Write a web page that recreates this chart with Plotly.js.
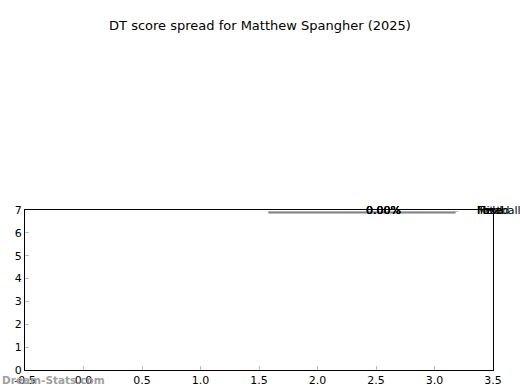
<!DOCTYPE html>
<html>
<head>
<meta charset="utf-8">
<script src="https://cdn.plot.ly/plotly-3.0.1.min.js"></script>
<style>html,body{margin:0;padding:0;background:#fff;}</style>
</head>
<body>
<div id="chart" style="width:520px;height:390px;"></div>
<script>
// Data
const categories = ["Total", "Football", "Mixed", "Field"];
const shares = ["0.00%", "0.00%", "0.00%", "0.00%"];
const spreadLow = [1.58, 1.58];
const spreadHigh = [3.18, 3.20];
const spreadLevel = [6.89, 6.93];
const labelX = 3.345;
const shareX = 2.56;
const catLevel = 7;
const xTicks = [-0.5, 0.0, 0.5, 1.0, 1.5, 2.0, 2.5, 3.0, 3.5];
const yTicks = [0, 1, 2, 3, 4, 5, 6, 7];

const traces = [
  {
    type: 'scatter', mode: 'lines',
    x: [spreadLow[0], spreadHigh[0]], y: [spreadLevel[0], spreadLevel[0]],
    line: {color: '#7f7f7f', width: 2}, hoverinfo: 'skip', showlegend: false
  },
  {
    type: 'scatter', mode: 'lines',
    x: [spreadLow[1], spreadHigh[1]], y: [spreadLevel[1], spreadLevel[1]],
    line: {color: '#b0b0b0', width: 1}, hoverinfo: 'skip', showlegend: false
  }
];

const font = {family: 'DejaVu Sans', size: 11, color: '#000'};
const annotations = [];
annotations.push({
  x: -0.054, y: -0.0625, xref: 'paper', yref: 'paper', text: 'Dream-Stats.com',
  showarrow: false, xanchor: 'left', yanchor: 'middle',
  font: {family: 'DejaVu Sans', size: 10.5, color: '#a0a0a0', weight: 'bold'}
});
categories.forEach((c, i) => {
  annotations.push({
    x: labelX, y: catLevel, xref: 'x', yref: 'y', text: c,
    showarrow: false, xanchor: 'left', yanchor: 'middle', font: font
  });
  annotations.push({
    x: shareX, y: catLevel, xref: 'x', yref: 'y', text: shares[i],
    showarrow: false, xanchor: 'center', yanchor: 'middle', font: font
  });
});

const axisCommon = {
  showline: true, linecolor: '#000', linewidth: 1, mirror: true,
  ticks: 'inside', ticklen: 4, tickcolor: '#bbb', tickwidth: 1,
  showgrid: false, zeroline: false, fixedrange: true,
  tickfont: font
};

const layout = {
  width: 520, height: 390,
  margin: {l: 25, r: 27, t: 210, b: 20, pad: 0},
  paper_bgcolor: '#fff', plot_bgcolor: '#fff',
  title: {
    text: 'DT score spread for Matthew Spangher (2025)',
    font: {family: 'DejaVu Sans', size: 13, color: '#000'},
    x: 0.5, xanchor: 'center', y: 0.935, yanchor: 'middle'
  },
  xaxis: Object.assign({}, axisCommon, {
    range: [-0.5, 3.5], tickvals: xTicks,
    ticktext: xTicks.map(v => v.toFixed(1))
  }),
  yaxis: Object.assign({}, axisCommon, {
    range: [0, 7], tickvals: yTicks, ticktext: yTicks.map(String)
  }),
  annotations: annotations,
  showlegend: false
};

Plotly.newPlot('chart', traces, layout, {staticPlot: true, displayModeBar: false});
</script>
</body>
</html>
